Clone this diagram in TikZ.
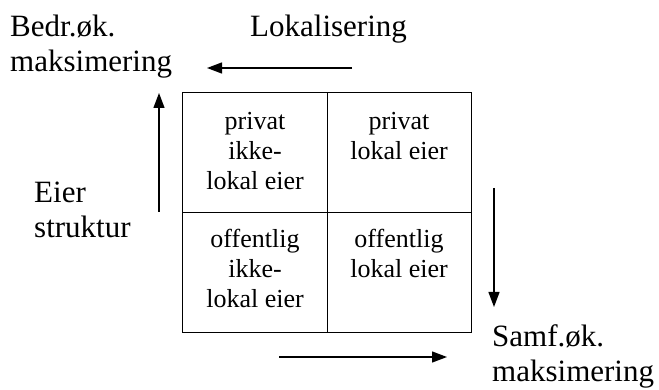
\documentclass[tikz,border=0pt]{standalone}
\usepackage{fontspec}
\setmainfont{Liberation Serif}
\usetikzlibrary{arrows.meta}
\tikzset{
  cell/.style={draw, line width=1.3pt, minimum width=144.5pt, minimum height=120pt, inner sep=0pt},
  celltext/.style={anchor=base, align=center, inner sep=0pt, font=\fontsize{26}{30}\selectfont},
  label/.style={anchor=base west, align=left, inner sep=0pt, font=\fontsize{31}{35}\selectfont},
  arr/.style={line width=1.3pt, -{Triangle[length=15pt,width=11pt]}}
}
\begin{document}
\begin{tikzpicture}[x=1pt,y=-1pt]
\useasboundingbox (0,0) rectangle (659,390);
% grid cells
\node[cell] (tl) at (255,152.5) {};
\node[cell] (tr) at (399.5,152.5) {};
\node[cell] (bl) at (255,272.5) {};
\node[cell] (br) at (399.5,272.5) {};
% cell texts (anchor = baseline of last line)
\node[celltext] (tlt) at (255,190) {privat\\ikke-\\lokal eier};
\node[celltext] (trt) at (399,160) {privat\\lokal eier};
\node[celltext] (blt) at (255,307) {offentlig\\ikke-\\lokal eier};
\node[celltext] (brt) at (399,277) {offentlig\\lokal eier};
% outside labels
\node[label] (bedr) at (10,72) {Bedr.øk.\\maksimering};
\node[label] (lok) at (250,37) {Lokalisering};
\node[label] (eier) at (34,238) {Eier\\struktur};
\node[label] (samf) at (492,381) {Samf.øk.\\maksimering};
% arrow end points
\coordinate (a1s) at (352,68);
\coordinate (a1e) at (207,68);
\coordinate (a2s) at (159,212);
\coordinate (a2e) at (159,93);
\coordinate (a3s) at (494,188);
\coordinate (a3e) at (494,307);
\coordinate (a4s) at (279,357);
\coordinate (a4e) at (447,357);
\draw[arr] (a1s) -- (a1e);
\draw[arr] (a2s) -- (a2e);
\draw[arr] (a3s) -- (a3e);
\draw[arr] (a4s) -- (a4e);
\end{tikzpicture}
\end{document}
